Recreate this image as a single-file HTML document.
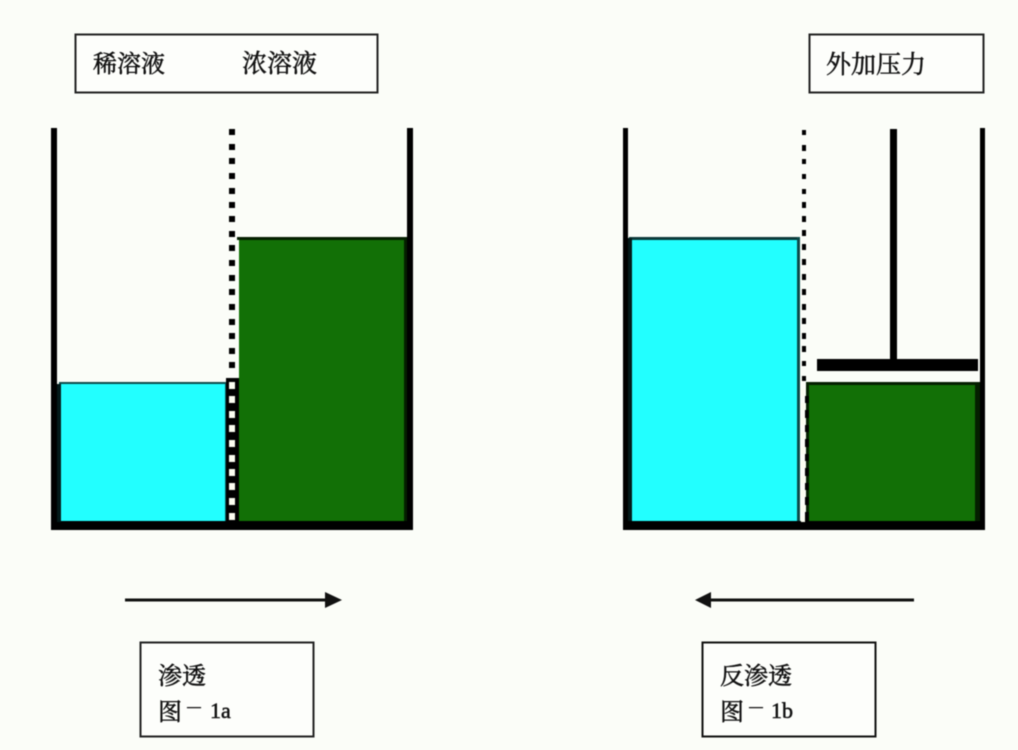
<!DOCTYPE html>
<html lang="zh">
<head>
<meta charset="utf-8">
<style>
html,body{margin:0;padding:0;background:#fbfdf8}
svg{display:block;filter:blur(.5px)}
text{font-family:"Liberation Serif","Noto Serif CJK SC","Noto Sans CJK SC",serif;font-size:24px;fill:#111;stroke:#111;stroke-width:.5px}
</style>
</head>
<body>
<svg width="1018" height="750" viewBox="0 0 1018 750" xmlns="http://www.w3.org/2000/svg">
<rect width="1018" height="750" fill="#fbfdf8"/>

<!-- Top label boxes -->
<rect x="75.5" y="34.5" width="302" height="58" fill="#fdfefb" stroke="#222" stroke-width="2"/>
<text x="93" y="72">稀溶液</text>
<text x="242" y="72" style="font-size:25px">浓溶液</text>
<rect x="809.5" y="34.5" width="174" height="58" fill="#fdfefb" stroke="#222" stroke-width="2"/>
<text x="826" y="73" style="font-size:25px">外加压力</text>

<!-- Left vessel -->
<rect x="61" y="384" width="164" height="138" fill="#22ffff"/>
<rect x="59" y="382" width="168" height="2" fill="#0c4a4a"/>
<rect x="225" y="382" width="2" height="140" fill="#0c5a5a"/>
<rect x="239" y="240" width="165" height="282" fill="#127006"/>
<rect x="237" y="237" width="170" height="3" fill="#041f00"/>
<rect x="404" y="237" width="4" height="285" fill="#041f00"/>
<rect x="226" y="378" width="13" height="145" fill="#000"/>
<rect x="51" y="128" width="6" height="402" fill="#000"/>
<rect x="407" y="128" width="6" height="402" fill="#000"/>
<rect x="51" y="521" width="362" height="9" fill="#000"/>
<rect x="57" y="384" width="4" height="138" fill="#031a1a"/>
<g fill="#000">
<rect x="229" y="129" width="6" height="6"/><rect x="229" y="144" width="6" height="6"/>
<rect x="229" y="158" width="6" height="6"/><rect x="229" y="173" width="6" height="6"/>
<rect x="229" y="188" width="6" height="6"/><rect x="229" y="202" width="6" height="6"/>
<rect x="229" y="216" width="6" height="6"/><rect x="229" y="231" width="6" height="6"/>
<rect x="229" y="245" width="6" height="6"/><rect x="229" y="260" width="6" height="6"/>
<rect x="229" y="275" width="6" height="6"/><rect x="229" y="289" width="6" height="6"/>
<rect x="229" y="304" width="6" height="6"/><rect x="229" y="319" width="6" height="6"/>
<rect x="229" y="333" width="6" height="6"/><rect x="229" y="348" width="6" height="6"/>
<rect x="229" y="362" width="6" height="6"/>
</g>
<g fill="#fbfdf0">
<rect x="229" y="382" width="6" height="7"/><rect x="229" y="396" width="6" height="7"/>
<rect x="229" y="411" width="6" height="7"/><rect x="229" y="425" width="6" height="7"/>
<rect x="229" y="440" width="6" height="7"/><rect x="229" y="455" width="6" height="7"/>
<rect x="229" y="469" width="6" height="7"/><rect x="229" y="483" width="6" height="7"/>
<rect x="229" y="498" width="6" height="7"/><rect x="229" y="513" width="6" height="7"/>
</g>

<!-- Right vessel -->
<rect x="632" y="240" width="165" height="282" fill="#22ffff"/>
<rect x="629" y="237" width="171" height="3" fill="#0c3a3a"/>
<rect x="797" y="237" width="3" height="285" fill="#0c4a4a"/>
<rect x="809" y="385" width="166" height="137" fill="#127006"/>
<rect x="806" y="382" width="173" height="3" fill="#041f00"/>
<rect x="806" y="382" width="3" height="140" fill="#041f00"/>
<rect x="975" y="382" width="5" height="140" fill="#041f00"/>
<rect x="623" y="128" width="5" height="402" fill="#000"/>
<rect x="628" y="238" width="4" height="284" fill="#031a1a"/>
<rect x="980" y="128" width="5" height="402" fill="#000"/>
<rect x="623" y="521" width="362" height="9" fill="#000"/>
<rect x="890" y="129" width="7" height="232" fill="#000"/>
<rect x="817" y="359" width="161" height="12" fill="#000"/>
<g fill="#000">
<rect x="802" y="130" width="4" height="5"/><rect x="802" y="145" width="4" height="6"/>
<rect x="802" y="159" width="4" height="5"/><rect x="802" y="174" width="4" height="5"/>
<rect x="802" y="189" width="4" height="5"/><rect x="802" y="202" width="4" height="6"/>
<rect x="802" y="216" width="4" height="6"/><rect x="802" y="230" width="4" height="6"/>
<rect x="802" y="244" width="4" height="6"/><rect x="802" y="259" width="4" height="6"/>
<rect x="802" y="274" width="4" height="6"/><rect x="802" y="289" width="4" height="6"/>
<rect x="802" y="304" width="4" height="6"/><rect x="802" y="318" width="4" height="6"/>
<rect x="802" y="333" width="4" height="6"/><rect x="802" y="346" width="4" height="6"/>
<rect x="802" y="361" width="4" height="5"/><rect x="802" y="376" width="4" height="5"/>
</g>
<g fill="#fbfdf0">
<rect x="801" y="389" width="4" height="7"/><rect x="801" y="403" width="4" height="7"/>
<rect x="801" y="418" width="4" height="7"/><rect x="801" y="432" width="4" height="7"/>
<rect x="801" y="447" width="4" height="7"/><rect x="801" y="461" width="4" height="7"/>
<rect x="801" y="476" width="4" height="7"/><rect x="801" y="490" width="4" height="7"/>
<rect x="801" y="505" width="4" height="7"/><rect x="801" y="516" width="4" height="6"/>
</g>
<g fill="#000">
<rect x="805" y="396" width="4" height="7"/><rect x="805" y="410" width="4" height="8"/>
<rect x="805" y="425" width="4" height="7"/><rect x="805" y="439" width="4" height="8"/>
<rect x="805" y="454" width="4" height="7"/><rect x="805" y="468" width="4" height="8"/>
<rect x="805" y="483" width="4" height="7"/><rect x="805" y="497" width="4" height="8"/>
<rect x="805" y="512" width="4" height="10"/>
</g>

<!-- Arrows -->
<rect x="125" y="598.5" width="202" height="3" fill="#111"/>
<polygon points="325,592 342,600 325,608" fill="#111"/>
<rect x="709" y="598.5" width="205" height="3" fill="#111"/>
<polygon points="711,592 695,600 711,608" fill="#111"/>

<!-- Bottom label boxes -->
<rect x="140.5" y="642.5" width="173" height="94" fill="#fdfefb" stroke="#222" stroke-width="2"/>
<text x="158" y="684">渗透</text>
<text x="158" y="720">图</text>
<text x="185" y="714.5" style="font-size:18px">－</text>
<text x="210" y="718" style="font-size:22px">1a</text>
<rect x="702.5" y="642.5" width="173" height="94" fill="#fdfefb" stroke="#111" stroke-width="2"/>
<text x="720" y="684">反渗透</text>
<text x="720" y="720">图</text>
<text x="747" y="714.5" style="font-size:18px">－</text>
<text x="771" y="718" style="font-size:22px">1b</text>
</svg>
</body>
</html>
